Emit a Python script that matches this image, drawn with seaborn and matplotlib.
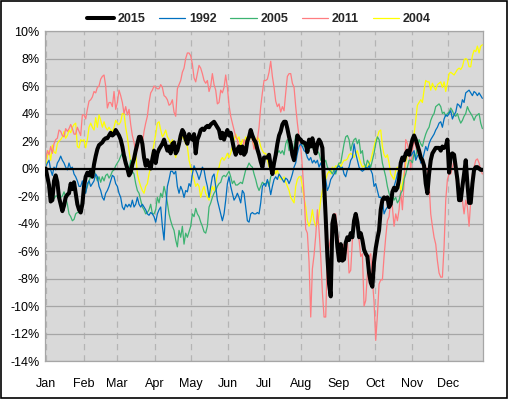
import numpy as np
import pandas as pd
import matplotlib
matplotlib.use("Agg")
import matplotlib.pyplot as plt
import matplotlib.ticker as mticker
import seaborn as sns

# ── SETUP ─────────────────────────────────────────────────────────────────────
sns.set_style("white")
plt.rcParams["font.family"] = ["Liberation Sans", "DejaVu Sans"]

# ── DATA: year-to-date return (%) per trading day ────────────────────────────
months = ["Jan", "Feb", "Mar", "Apr", "May", "Jun",
          "Jul", "Aug", "Sep", "Oct", "Nov", "Dec"]
month_start = pd.date_range("2015-01-01", periods=12, freq="MS").dayofyear - 1

ret_2015 = [
    0.0, -0.6, -1.2, -2.4, -2.3, -0.9, -0.5, -1.0, -2.1, -2.6,
    -3.1, -2.7, -2.1, -1.9, -1.8, -1.1, -1.5, -1.0, -1.8, -2.6,
    -3.0, -3.2, -2.6, -1.3, -0.6, -0.3, -0.5, -0.2, -0.6, 0.3,
    0.9, 1.4, 1.7, 1.8, 1.9, 2.1, 2.2, 2.2, 2.4, 2.6,
    2.4, 2.5, 2.8, 2.6, 2.4, 2.1, 1.6, 0.9, 0.4, 0.0,
    -0.5, -0.3, 0.3, 0.7, 1.3, 1.8, 2.3, 2.3, 1.8, 0.8,
    0.2, 0.6, 0.2, 0.0, 0.7, 1.3,
    0.4, 1.1, 1.4, 1.6, 1.8, 2.1, 1.7, 1.3, 1.6, 1.1,
    1.8, 1.9, 1.1, 1.3, 1.8, 2.4, 2.8, 2.6, 2.1, 1.8,
    2.5, 2.2, 2.1, 2.5, 1.1, 2.1, 2.4, 2.8, 2.9, 2.8,
    3.0, 3.1, 3.0, 3.2, 3.3, 3.4, 3.2, 3.0, 2.8, 2.2,
    2.6, 2.1, 2.5, 2.8, 2.4, 2.6, 2.0, 1.4, 1.0, 1.4,
    1.6, 1.1, 1.6, 1.0, 1.2, 2.0, 2.3, 2.8, 2.4, 2.1,
    1.9, 1.4, 1.0, 0.5, 0.1, 0.8,
    0.8, 0.8, 1.0, 0.2, -0.4, 0.4, 1.0, 1.8, 2.4, 2.7,
    3.2, 3.4, 3.4, 2.9, 2.3, 1.8, 1.0, 0.6, 1.3, 2.4,
    2.2, 2.1, 1.9, 1.9, 1.8, 1.2, 2.1, 1.6, 2.2, 1.6,
    1.1, 1.8, 2.1, 1.9, 1.5, -1.0, -3.6, -6.4, -8.4, -9.3,
    -4.0, -3.4, -4.2, -5.7, -6.7, -5.5, -6.7, -6.6, -5.4, -5.0,
    -5.2, -4.7, -5.0, -3.8, -3.3, -3.9, -5.0, -4.7, -5.2, -5.9,
    -6.2, -6.4, -7.6, -8.3, -8.6, -6.8,
    -5.8, -5.1, -4.5, -3.0, -2.3, -2.1, -2.2, -2.1, -2.8, -2.6,
    -1.7, -1.4, -1.6, -1.4, -0.8, 0.4, 0.8, 0.6, 1.1, 1.3,
    1.0, 1.6, 2.1, 2.4, 2.1, 1.7, 1.3, 0.8, 0.6, 0.2,
    -1.1, -1.8, -0.4, 0.6, 1.1, 1.3, 1.5, 1.5, 1.5, 1.3,
    1.6, 1.5, 1.6, 2.1, -0.3, 1.0, 1.1, 1.0, 0.1, -0.8,
    -2.3, -2.3, -1.3, -0.4, 0.6, -1.1, -2.5, -2.5, -1.1, -0.1,
    0.1, 0.1, 0.0, -0.1, -0.1,
]

ret_2011 = [
    0.6, 1.3, 1.0, 1.6, 1.1, 1.8, 2.1, 2.2, 2.8, 2.7,
    2.4, 2.3, 2.9, 2.7, 2.9, 3.2, 2.9, 2.5, 2.5, 3.0,
    2.7, 2.4, 3.9, 3.9, 3.6, 4.3, 4.9, 5.0, 5.2, 5.6,
    5.5, 5.9, 6.0, 6.5, 6.7, 6.8, 6.0, 4.4, 4.8, 4.8,
    4.5, 5.6, 4.3, 4.8, 5.7, 5.3, 4.8, 4.0, 4.5, 3.9,
    4.3, 3.2, 2.4, 1.9, 1.2, 1.3, 2.3, 2.2, 1.8, 2.7,
    3.3, 3.8, 4.8, 5.5, 5.7, 6.0,
    5.9, 5.8, 5.8, 6.1, 5.9, 5.3, 5.2, 5.0, 4.6, 4.7,
    5.0, 4.1, 3.8, 5.8, 6.1, 6.4, 7.0, 7.3, 8.0, 8.4,
    8.4, 8.2, 7.6, 6.6, 6.3, 6.9, 7.5, 7.3, 6.9, 6.4,
    6.2, 6.4, 5.6, 6.0, 6.9, 6.1, 5.7, 4.7, 4.8, 5.7,
    5.5, 5.9, 6.8, 5.9, 4.6, 3.8, 3.3, 2.8, 2.3, 2.1,
    1.3, 1.0, 1.3, 2.1, 1.7, 1.8, 2.1, 2.8, 2.1, 1.4,
    1.7, 2.1, 3.0, 4.5, 5.5, 6.4,
    6.4, 6.5, 7.0, 7.8, 6.7, 5.9, 4.9, 4.5, 4.7, 4.1,
    4.5, 4.2, 5.5, 6.7, 6.9, 6.9, 6.2, 5.9, 4.5, 3.3,
    2.3, 1.6, 0.1, -1.8, -4.4, -4.7, -6.8, -10.8, -7.3, -6.3,
    -4.9, -3.0, -4.5, -6.4, -9.0, -10.8, -10.8, -6.2, -5.7, -5.0,
    -3.8, -3.3, -3.3, -4.7, -5.4, -6.6, -6.2, -5.5, -6.2, -5.2,
    -7.6, -7.4, -5.2, -4.2, -3.3, -3.5, -5.2, -6.4, -6.2, -10.0,
    -9.6, -7.6, -6.4, -6.2, -8.1, -9.7,
    -12.5, -10.7, -8.4, -8.1, -8.1, -6.4, -5.0, -3.8, -3.5, -2.3,
    -2.8, -4.2, -3.3, -3.8, -3.0, -1.6, -3.0, -1.1, 2.1, 1.8,
    1.3, -0.1, 1.3, 2.1, 1.6, 1.1, 1.3, 0.4, 0.4, -0.4,
    0.1, -0.1, -1.1, -3.3, -4.2, -5.0, -5.5, -6.7, -7.6, -7.9,
    -7.9, -5.7, -2.3, -0.8, -0.4, -0.4, 0.1, 0.6, -0.6, -1.3,
    -1.1, -2.1, -2.3, -3.3, -2.3, -2.8, -4.2, -2.3, -0.4, 0.1,
    0.6, 0.7, 0.4, -0.1, -0.4,
]

ret_2005 = [
    -0.1, -0.9, -1.6, -2.1, -2.0, -2.2, -2.0, -2.0, -1.8, -2.1,
    -2.0, -1.7, -2.1, -2.6, -3.3, -3.5, -3.8, -3.7, -3.3, -3.2,
    -3.2, -2.8, -2.3, -1.8, -1.7, -1.3, -0.9, -0.6, -0.4, -0.1,
    -0.5, -0.9, -0.6, -1.0, -0.6, -0.9, -0.5, -0.4, -0.7, -0.5,
    -0.2, -0.1, 0.2, 0.4, 0.6, 0.9, 1.1, 0.7, 0.9, 0.1,
    -0.1, 0.6, -0.2, -0.4, -1.1, -1.6, -1.8, -2.3, -2.8, -3.0,
    -3.3, -3.2, -3.0, -2.6, -3.3, -3.3,
    -3.0, -2.1, -2.5, -1.8, -2.1, -1.3, -1.8, -2.5, -3.3, -3.8,
    -4.2, -4.5, -5.2, -5.7, -4.5, -5.0, -4.2, -5.5, -4.7, -5.0,
    -4.6, -4.2, -3.3, -3.5, -2.9, -3.3, -3.5, -3.9, -4.2, -4.6,
    -4.7, -4.2, -2.8, -2.5, -2.1, -1.8, -1.6, -1.3, -1.1, -1.0,
    -0.6, -0.5, -0.6, -0.4, -0.2, -0.6, -1.1, -0.9, -1.2, -1.2,
    -1.1, -1.0, -1.1, -0.6, -0.1, 0.1, 0.4, 0.2, 0.1, -0.4,
    -0.8, -1.3, -1.6, -1.3, -1.0, -1.1,
    -1.1, -0.9, -1.3, -0.6, -0.4, 0.1, 0.8, 1.1, 1.3, 1.1,
    1.3, 1.0, 1.8, 2.1, 1.3, 1.8, 1.3, 1.6, 2.4, 2.5,
    2.1, 2.1, 1.9, 1.6, 1.6, 1.8, 1.3, 1.8, 1.6, 1.3,
    1.1, 1.3, 1.1, 0.6, 0.6, 0.4, 0.6, 0.1, -0.1, -0.2,
    -0.4, -0.1, -0.4, 0.1, 0.4, 0.4, 1.1, 1.8, 2.3, 2.4,
    2.1, 1.3, 1.8, 2.1, 2.2, 1.8, 2.1, 1.1, 1.3, 0.4,
    0.1, 0.6, 0.4, 0.1, 0.6, 1.1,
    1.8, 2.3, 2.1, 1.3, 0.4, -0.1, -0.6, -1.3, -1.8, -2.1,
    -1.8, -2.3, -2.1, -2.5, -2.3, -1.8, -1.6, -0.8, -0.4, 0.1,
    0.6, 0.6, 0.4, 1.1, 0.8, 1.6, 2.1, 1.8, 1.6, 2.1,
    2.5, 2.8, 3.0, 3.5, 3.8, 4.0, 4.5, 4.6, 4.7, 4.5,
    4.0, 4.1, 3.8, 4.0, 4.1, 4.4, 4.2, 3.9, 3.8, 4.0,
    3.6, 3.3, 3.5, 3.8, 4.0, 4.5, 4.2, 4.0, 3.8, 3.5,
    3.8, 3.9, 4.0, 3.3, 2.9,
]

ret_2004 = [
    -0.1, 0.9, 1.3, 0.6, 1.7, 1.2, 1.1, 1.8, 2.0, 2.1,
    2.3, 2.7, 2.2, 2.4, 2.8, 2.6, 3.0, 3.2, 3.3, 1.6,
    1.5, 2.1, 2.0, 2.1, 1.5, 2.1, 3.0, 3.3, 3.0, 2.8,
    3.7, 3.0, 3.9, 3.5, 3.0, 3.4, 3.0, 2.8, 3.0, 2.8,
    2.7, 3.0, 3.5, 3.3, 3.2, 3.4, 4.0, 4.0, 3.0, 2.3,
    1.3, 0.4, -0.1, 0.6, 1.1, -0.4, -0.9, -1.3, -1.6, -1.8,
    -1.3, -1.1, -0.4, 0.1, 1.1, 1.8,
    2.5, 3.3, 3.4, 2.8, 2.3, 2.5, 2.8, 2.3, 2.1, 1.8,
    2.1, 1.3, 0.8, 1.6, 2.1, 2.3, 2.3, 2.1, 1.8, 1.6,
    0.6, 0.1, -0.4, -0.8, -1.3, -1.1, -1.3, -2.1, -1.6, -1.3,
    -1.8, -2.1, -2.3, -1.8, -1.3, -1.6, -1.1, -0.4, 0.1, 0.6,
    0.8, 0.6, 0.8, 1.1, 0.8, 1.1, 1.6, 2.1, 2.5, 2.1,
    2.3, 1.6, 2.1, 1.8, 2.3, 2.1, 2.5, 2.3, 2.1, 1.6,
    1.8, 2.3, 2.1, 1.6, 1.3, 1.1,
    1.1, 0.6, 0.1, 0.4, -0.1, 0.1, -0.4, -0.1, -0.6, -0.8,
    -0.8, -0.6, -1.0, -1.3, -1.6, -2.1, -2.3, -2.5, -1.3, -0.8,
    -0.6, -0.6, -1.3, -2.1, -2.8, -3.8, -4.2, -3.8, -3.0, -3.8,
    -4.2, -4.0, -3.3, -2.3, -1.6, -1.3, -0.8, -0.4, -0.2, -0.4,
    0.1, -0.1, 0.2, 0.1, 0.4, 0.1, 0.4, 0.6, 0.6, 0.7,
    1.0, 1.1, 1.0, 0.8, 1.1, 1.3, 0.8, 0.4, 0.1, 0.2,
    0.0, 0.1, 0.4, 0.6, 1.1, 1.6,
    2.1, 2.3, 2.7, 2.8, 1.6, 1.0, 0.8, 1.0, 0.4, -0.4,
    -0.6, -0.8, -0.1, 0.1, -0.6, -1.6, -1.1, -0.4, 0.4, 1.1,
    1.5, 1.8, 2.1, 2.5, 3.5, 4.6, 4.8, 5.0, 4.8, 5.7,
    6.4, 6.3, 6.3, 5.7, 6.2, 5.9, 5.7, 6.1, 6.2, 6.3,
    5.9, 6.3, 5.6, 6.2, 6.9, 7.0, 6.9, 6.8, 7.0, 7.2,
    7.3, 7.2, 7.4, 7.9, 8.0, 7.9, 7.4, 7.4, 8.2, 8.6,
    8.5, 8.9, 8.4, 8.9, 9.0,
]

ret_1992 = [
    0.1, 0.4, 0.6, -0.1, -0.5, 0.1, -0.1, 0.4, 0.6, 0.9,
    0.6, 0.4, 0.1, -0.1, 0.4, 0.0, 0.1, -0.4, -0.6, -0.9,
    -1.3, -1.3, -0.9, -1.6, -1.8, -1.1, -0.9, -1.3, -1.1, -0.9,
    -0.4, -0.6, -1.3, -1.6, -2.1, -2.3, -1.8, -1.6, -1.3, -0.9,
    -0.5, -0.6, -1.1, -1.3, -1.8, -2.1, -2.8, -3.0, -2.6, -2.8,
    -2.6, -2.8, -2.3, -2.8, -2.6, -2.1, -2.6, -2.8, -2.6, -2.8,
    -3.0, -3.3, -3.4, -3.2, -3.3, -3.5,
    -3.9, -3.3, -3.0, -2.8, -4.2, -5.2, -3.0, -1.3, -0.8, -0.2,
    -0.2, -0.4, -0.2, -1.3, -1.8, -1.3, -1.6, -2.1, -1.6, -1.7,
    -1.1, -1.3, -0.4, 0.2, -0.1, -0.4, -0.8, -0.4, 0.1, -0.1,
    -0.8, -1.3, -2.1, -1.3, -0.6, -0.4, -1.3, -2.3, -2.8, -3.3,
    -3.8, -3.3, -2.3, -1.1, -0.6, -1.3, -1.8, -2.3, -2.1, -1.8,
    -2.1, -2.5, -1.6, -1.8, -2.8, -3.8, -3.9, -3.3, -3.2, -3.3,
    -3.3, -3.2, -3.3, -2.5, -1.3, -1.1,
    -1.3, -0.8, -1.2, -1.9, -1.3, -0.8, -0.6, -0.8, -0.4, -0.6,
    -0.8, -1.0, -0.7, -0.8, -1.1, -0.8, -0.4, 0.1, 0.4, 1.1,
    1.6, 1.8, 1.6, 1.3, 1.2, 0.8, 0.6, 0.8, 0.4, 0.6,
    0.4, 0.6, 0.1, 0.4, 0.0, -0.4, -0.8, -1.6, -1.3, -0.8,
    -0.6, -0.4, -0.2, 0.1, 0.2, 0.0, 0.1, -0.4, -0.6, -0.1,
    0.1, 0.6, 0.8, 1.8, 1.1, 0.6, 0.1, -0.1, -0.2, -0.1,
    0.1, 0.0, 0.2, -0.1, -0.4, -1.3,
    -1.1, -1.6, -2.1, -2.1, -2.3, -3.3, -3.0, -2.8, -2.5, -2.1,
    -1.8, -1.3, -0.9, -0.4, -0.1, 0.1, 0.4, 0.6, 0.9, 1.1,
    1.3, 0.9, 1.1, 1.3, 0.6, 0.9, 1.1, 0.4, 0.6, 1.1,
    1.6, 1.3, 1.8, 2.1, 2.3, 2.5, 2.8, 3.0, 3.3, 3.4,
    3.0, 3.6, 3.9, 3.8, 4.0, 4.2, 3.6, 3.9, 4.1, 4.7,
    4.6, 4.4, 5.0, 4.8, 5.5, 5.6, 5.7, 5.5, 5.3, 5.6,
    5.5, 5.3, 5.5, 5.3, 5.1,
]

# drawing order (2015 on top) and legend order
series = [
    ("2004", ret_2004, "#FFFF00", 0.9),
    ("2011", ret_2011, "#FF7C80", 0.9),
    ("2005", ret_2005, "#3CB371", 0.9),
    ("1992", ret_1992, "#0070C0", 0.9),
    ("2015", ret_2015, "#000000", 2.9),
]
legend_order = ["2015", "1992", "2005", "2011", "2004"]

# ── CHART ─────────────────────────────────────────────────────────────────────
fig, ax = plt.subplots(figsize=(5.08, 3.99), dpi=100)
fig.subplots_adjust(left=0.0886, right=0.9508, bottom=0.0952, top=0.9223)
ax.set_facecolor("#D9D9D9")

for name, vals, color, lw in series:
    days = np.linspace(-0.44, 362.5, len(vals))
    sns.lineplot(x=days, y=vals, color=color, linewidth=lw, label=name,
                 estimator=None, ax=ax, zorder=4 if name == "2015" else 2)

ax.axhline(0, color="black", linewidth=1.6, zorder=3)

ax.set_xlim(-1, 363)
ax.set_ylim(-14, 10)
ax.set_yticks(range(-14, 11, 2))
ax.yaxis.set_major_formatter(mticker.FuncFormatter(lambda v, _: f"{v:.0f}%"))
ax.set_xticks(month_start)
ax.set_xticklabels(months)
ax.set_xlabel("")
ax.set_ylabel("")
ax.tick_params(axis="both", length=0, labelsize=9, colors="black")
ax.tick_params(axis="x", pad=12)
ax.tick_params(axis="y", pad=4)

ax.yaxis.grid(True, color="#A6A6A6", linewidth=0.9)
ax.xaxis.grid(True, color="#B4B4B4", linewidth=0.9, linestyle=(0, (5, 4)))
ax.set_axisbelow(True)
for sp in ax.spines.values():
    sp.set_color("#A6A6A6")
    sp.set_linewidth(0.9)

handles, labels = ax.get_legend_handles_labels()
lookup = dict(zip(labels, handles))
if ax.get_legend() is not None:
    ax.get_legend().remove()
fig.legend([lookup[k] for k in legend_order], legend_order,
           loc="center", bbox_to_anchor=(0.51, 0.952), ncol=5, frameon=False,
           prop={"weight": "bold", "size": 9}, handlelength=2.1,
           handletextpad=0.3, columnspacing=1.1)

fig.add_artist(plt.Rectangle((0.002, 0.003), 0.996, 0.994, transform=fig.transFigure,
                             fill=False, edgecolor="black", linewidth=1.2))

fig.savefig("out.png", dpi=100)
plt.close(fig)
